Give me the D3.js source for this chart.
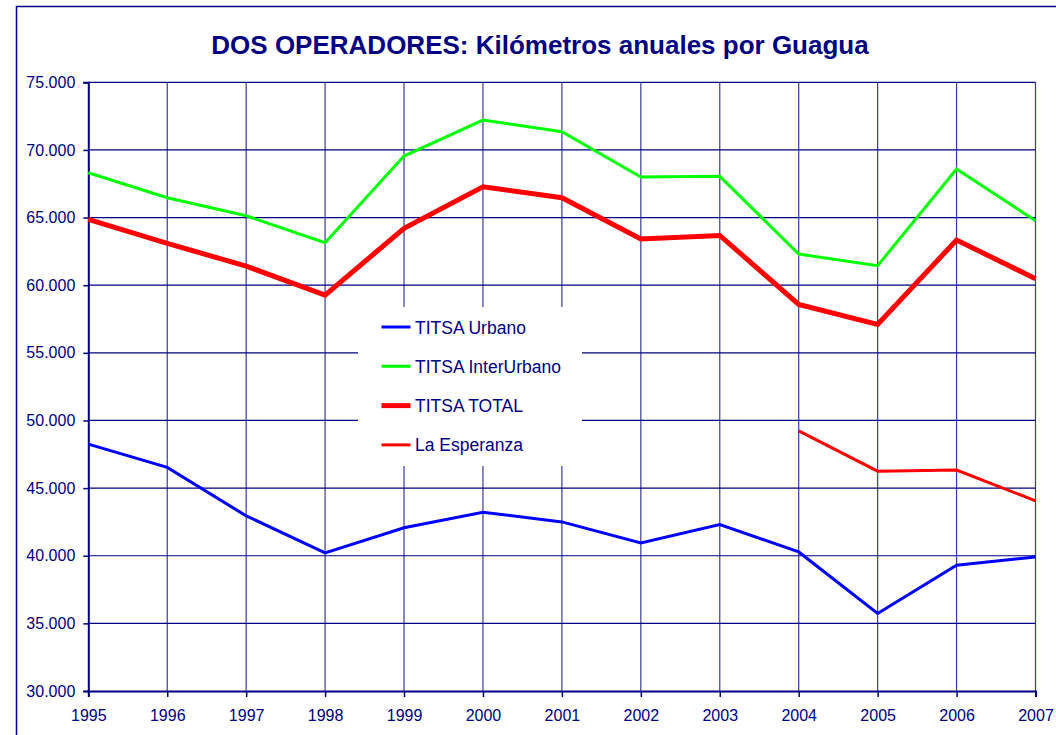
<!DOCTYPE html>
<html>
<head>
<meta charset="utf-8">
<script src="https://cdn.jsdelivr.net/npm/d3@7"></script>
<style>
  body { margin: 0; background: #fff; }
  svg { display: block; font-family: "Liberation Sans", Arial, sans-serif; }
</style>
</head>
<body>
<div id="viz"></div>
<script>
const years = [1995, 1996, 1997, 1998, 1999, 2000, 2001, 2002, 2003, 2004, 2005, 2006, 2007];
const urbano = [48250, 46530, 42950, 40210, 42070, 43220, 42500, 40950, 42310, 40280, 35730, 39300, 39910];
const interUrbano = [68310, 66470, 65130, 63140, 69550, 72210, 71350, 68000, 68050, 62300, 61440, 68590, 64760];
const total = [64870, 63090, 61410, 59270, 64200, 67280, 66470, 63410, 63680, 58580, 57100, 63340, 60480];
const esperanzaYears = [2004, 2005, 2006, 2007];
const esperanza = [49230, 46250, 46330, 44060];
const yTicks = [30000, 35000, 40000, 45000, 50000, 55000, 60000, 65000, 70000, 75000];

const navy = "#000080";
const width = 1056, height = 735;
const margin = { top: 82.3, right: 20.5, bottom: 44, left: 88.3 };

const svg = d3.select("#viz").append("svg")
  .attr("width", width)
  .attr("height", height);

// outer chart border (runs off the bottom and right)
svg.append("rect")
  .attr("x", 16.5).attr("y", 6.5)
  .attr("width", 1200).attr("height", 900)
  .attr("fill", "none")
  .attr("stroke", navy)
  .attr("stroke-width", 1.5);

svg.append("text")
  .attr("x", 540)
  .attr("y", 54)
  .attr("text-anchor", "middle")
  .style("font-size", "26px")
  .style("font-weight", "bold")
  .style("fill", navy)
  .text("DOS OPERADORES: Kilómetros anuales por Guagua");

const x = d3.scaleLinear()
  .domain([1995, 2007])
  .range([margin.left, width - margin.right]);

const y = d3.scaleLinear()
  .domain([30000, 75000])
  .range([height - margin.bottom, margin.top]);

const fmt = d => d3.format(",")(d).replace(",", ".");

// grid
svg.append("g")
  .selectAll("line")
  .data(years.slice(1))
  .join("line")
  .attr("x1", d => x(d)).attr("x2", d => x(d))
  .attr("y1", y(75000)).attr("y2", y(30000))
  .attr("stroke", "#3a3a9a")
  .attr("stroke-width", 1.2);

svg.append("g")
  .selectAll("line")
  .data(yTicks.slice(1))
  .join("line")
  .attr("x1", x(1995)).attr("x2", x(2007))
  .attr("y1", d => y(d)).attr("y2", d => y(d))
  .attr("stroke", navy)
  .attr("stroke-width", 1.2);

// axes
const yAxis = svg.append("g")
  .attr("transform", `translate(${x(1995)},0)`)
  .call(d3.axisLeft(y).tickValues(yTicks).tickFormat(fmt).tickSize(5).tickPadding(8));

const xAxis = svg.append("g")
  .attr("transform", `translate(0,${y(30000)})`)
  .call(d3.axisBottom(x).tickValues(years).tickFormat(d3.format("d")).tickSize(6).tickPadding(13));

[yAxis, xAxis].forEach(g => {
  g.select(".domain").attr("stroke", navy).attr("stroke-width", 2);
  g.selectAll(".tick line").attr("stroke", navy).attr("stroke-width", 1.5);
  g.selectAll(".tick text")
    .style("font-size", "16px")
    .style("font-family", "'Liberation Sans', Arial, sans-serif")
    .attr("fill", navy);
});

// lines
const line = d3.line()
  .x(d => x(d[0]))
  .y(d => y(d[1]));

const series = [
  { name: "TITSA Urbano", xs: years, values: urbano, color: "#0000ff", w: 3 },
  { name: "TITSA InterUrbano", xs: years, values: interUrbano, color: "#00ff00", w: 3 },
  { name: "TITSA TOTAL", xs: years, values: total, color: "#ff0000", w: 5 },
  { name: "La Esperanza", xs: esperanzaYears, values: esperanza, color: "#ff0000", w: 3 }
];

series.forEach(s => {
  svg.append("path")
    .datum(s.xs.map((yr, i) => [yr, s.values[i]]))
    .attr("fill", "none")
    .attr("stroke", s.color)
    .attr("stroke-width", s.w)
    .attr("stroke-linejoin", "miter")
    .attr("d", line);
});

// legend
const legend = svg.append("g");
legend.append("rect")
  .attr("x", 358).attr("y", 307)
  .attr("width", 224).attr("height", 159)
  .attr("fill", "#fff");

series.forEach((s, i) => {
  const ly = 327 + i * 39.3;
  legend.append("line")
    .attr("x1", 381.5).attr("x2", 410.5)
    .attr("y1", ly).attr("y2", ly)
    .attr("stroke", s.color)
    .attr("stroke-width", s.w);
  legend.append("text")
    .attr("x", 415)
    .attr("y", ly + 6.5)
    .style("font-size", "17.5px")
    .style("fill", navy)
    .text(s.name);
});
</script>
</body>
</html>
